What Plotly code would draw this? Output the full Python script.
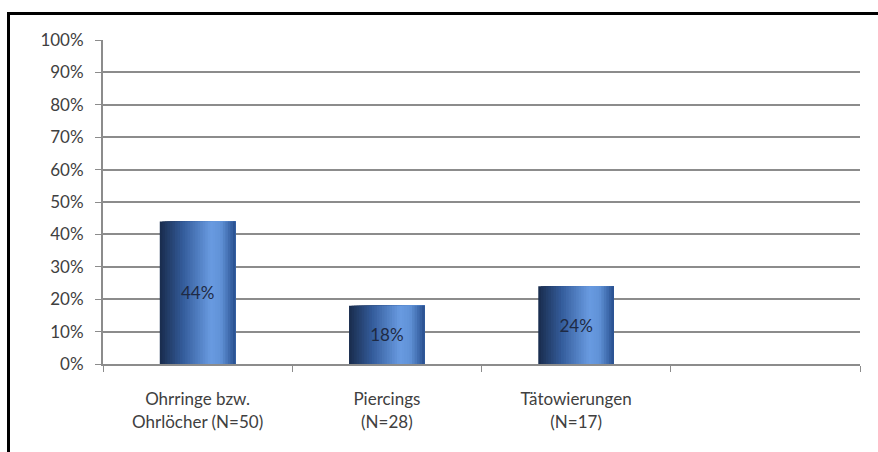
import plotly.graph_objects as go

categories = ["Ohrringe bzw.<br>Ohrlöcher (N=50)", "Piercings<br>(N=28)", "Tätowierungen<br>(N=17)"]
empty_slot = " "
values = [0.44, 0.18, 0.24]
y_ticks = [0, 0.1, 0.2, 0.3, 0.4, 0.5, 0.6, 0.7, 0.8, 0.9, 1.0]
y_tick_labels = ["0%", "10%", "20%", "30%", "40%", "50%", "60%", "70%", "80%", "90%", "100%"]

FONT = "Lato, Open Sans, sans-serif"
FS = 17
bar_width = 0.4
n_slices = 30
stops = [(0.0, (26, 46, 80)), (0.3, (52, 92, 155)), (0.68, (105, 155, 225)),
         (0.82, (96, 146, 215)), (1.0, (44, 84, 148))]

def grad(t):
    for (t0, c0), (t1, c1) in zip(stops[:-1], stops[1:]):
        if t0 <= t <= t1:
            f = (t - t0) / (t1 - t0)
            return "rgb(%d,%d,%d)" % tuple(round(a + (b - a) * f) for a, b in zip(c0, c1))
    return "rgb(%d,%d,%d)" % stops[-1][1]

fig = go.Figure()
sw = bar_width / n_slices
for i in range(n_slices):
    w = bar_width - i * sw
    fig.add_trace(go.Bar(
        x=categories, y=values,
        width=[w] * len(values),
        offset=[-bar_width / 2 + i * sw] * len(values),
        marker=dict(color=grad(i / (n_slices - 1)), line=dict(width=0)),
        hoverinfo="skip", showlegend=False,
    ))

fig.add_trace(go.Bar(
    x=categories, y=values,
    width=[bar_width] * len(values),
    offset=[-bar_width / 2] * len(values),
    marker=dict(color="rgba(0,0,0,0)", line=dict(width=0)),
    text=[f"{round(v*100)}%" for v in values],
    textposition="inside", insidetextanchor="middle",
    textfont=dict(family=FONT, size=FS, color="#1e2a44"),
    textangle=0, showlegend=False,
))

fig.update_layout(
    barmode="overlay",
    width=878, height=452,
    margin=dict(l=103, r=18, t=40, b=88),
    paper_bgcolor="white", plot_bgcolor="white",
    font=dict(family=FONT, size=FS, color="#404040"),
    xaxis=dict(
        type="category",
        categoryorder="array", categoryarray=categories + [empty_slot],
        range=[-0.5, 3.5],
        tickson="boundaries",
        ticks="outside", ticklen=6, tickcolor="#8c8c8c", tickwidth=1,
        ticklabelstandoff=19,
        showline=True, linecolor="#8c8c8c", linewidth=2,
        showgrid=False, tickfont=dict(family=FONT, size=FS, color="#404040"),
        fixedrange=True,
    ),
    yaxis=dict(
        range=[0, 1.0],
        tickvals=y_ticks, ticktext=y_tick_labels,
        ticks="outside", ticklen=6, tickcolor="#8c8c8c", tickwidth=1,
        ticklabelstandoff=8,
        showline=True, linecolor="#8c8c8c", linewidth=2,
        showgrid=True, gridcolor="#8c8c8c", gridwidth=1.5,
        zeroline=False,
        tickfont=dict(family=FONT, size=FS, color="#404040"),
        fixedrange=True,
    ),
    shapes=[dict(type="rect", xref="paper", yref="paper",
                 x0=(8.5 - 103) / 757, x1=(895 - 103) / 757,
                 y0=(364 - 470) / 324, y1=(364 - 13.5) / 324,
                 line=dict(color="black", width=3), fillcolor="rgba(0,0,0,0)",
                 layer="above")],
)

fig.write_html("out.html")
